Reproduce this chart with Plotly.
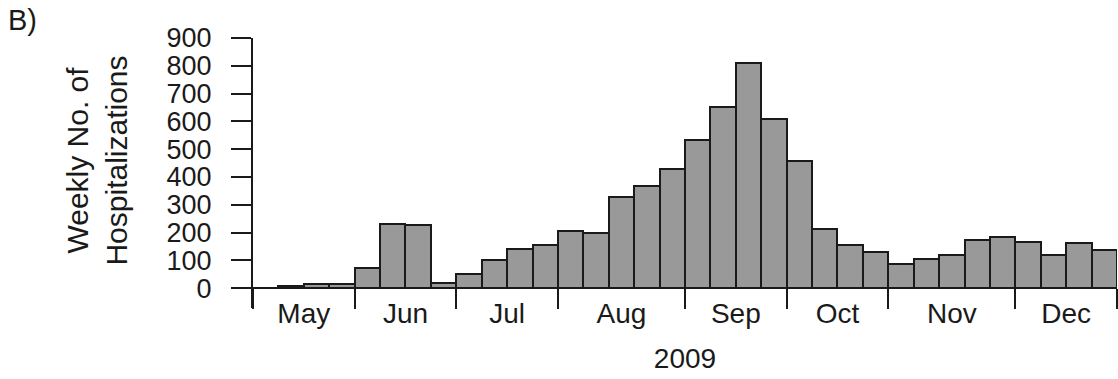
import plotly.graph_objects as go

# Data
week_index = list(range(34))
weekly_hospitalizations = [0, 6, 16, 16, 71, 232, 227, 18, 52, 103, 141, 154, 207, 198,
                           327, 366, 430, 532, 653, 810, 608, 459, 214, 156, 130, 88,
                           106, 120, 173, 185, 166, 120, 162, 138]
month_names = ["May", "Jun", "Jul", "Aug", "Sep", "Oct", "Nov", "Dec"]
month_start_week = [0, 4, 8, 12, 17, 21, 25, 30]
last_week_end = 34
y_tick_values = [0, 100, 200, 300, 400, 500, 600, 700, 800, 900]
x_title = "2009"
y_title_lines = ["Weekly No. of", "Hospitalizations"]
panel_label = "B)"

month_bounds = month_start_week + [last_week_end]
boundary_pos = [b - 0.5 for b in month_bounds]
month_mid = [(month_bounds[i] + month_bounds[i + 1]) / 2 - 0.5 for i in range(len(month_names))]

FONT = "Liberation Sans, Arial, Helvetica, sans-serif"
INK = "#1a1a1a"

W, H = 1118, 379
ML, MR, MT, MB = 253, 1, 38, 71
PW, PH = W - ML - MR, H - MT - MB

# leading spaces nudge the rotated title slightly upward (centre on the 0-900 span)
pad = "&nbsp;" * 3
y_title = "<br>".join(pad + line for line in y_title_lines)

fig = go.Figure(go.Bar(
    x=week_index, y=weekly_hospitalizations, width=1,
    marker=dict(color="#999999", line=dict(color=INK, width=2)),
    hoverinfo="x+y",
))

y_lo, y_hi = -71.5, 900
fig.update_layout(
    width=W, height=H,
    margin=dict(l=ML, r=MR, t=MT, b=MB),
    paper_bgcolor="white", plot_bgcolor="white",
    showlegend=False, bargap=0,
    font=dict(family=FONT, color=INK),
    xaxis=dict(
        range=[-0.5, 33.5],
        anchor="free", position=(0 - y_lo) / (y_hi - y_lo),
        showline=True, linecolor=INK, linewidth=2,
        showgrid=False, zeroline=False,
        tickmode="array", tickvals=month_mid, ticktext=month_names,
        ticks="", tickfont=dict(size=28, family=FONT, color=INK),
        minor=dict(tickmode="array", tickvals=boundary_pos, ticks="outside",
                   ticklen=20, tickwidth=2, tickcolor=INK, showgrid=False),
        title=dict(text=x_title, font=dict(size=28, family=FONT, color=INK), standoff=20),
    ),
    yaxis=dict(
        range=[y_lo, y_hi],
        showline=True, linecolor=INK, linewidth=2,
        showgrid=False, zeroline=False,
        tickmode="array", tickvals=y_tick_values,
        ticks="outside", ticklen=20, tickwidth=2, tickcolor=INK,
        ticklabelstandoff=14,
        tickfont=dict(size=27, family=FONT, color=INK),
        title=dict(text=y_title, font=dict(size=30, family=FONT, color=INK), standoff=30),
    ),
    annotations=[dict(text=panel_label, xref="paper", yref="paper",
                      x=-(ML - 6) / PW, y=1 + (MT - 2) / PH,
                      xanchor="left", yanchor="top", showarrow=False,
                      font=dict(size=29, family=FONT, color=INK))],
)

fig.write_html(
    "out.html",
    config={"displayModeBar": False},
    post_script="document.body.style.margin='0';document.body.style.overflow='hidden';",
)
